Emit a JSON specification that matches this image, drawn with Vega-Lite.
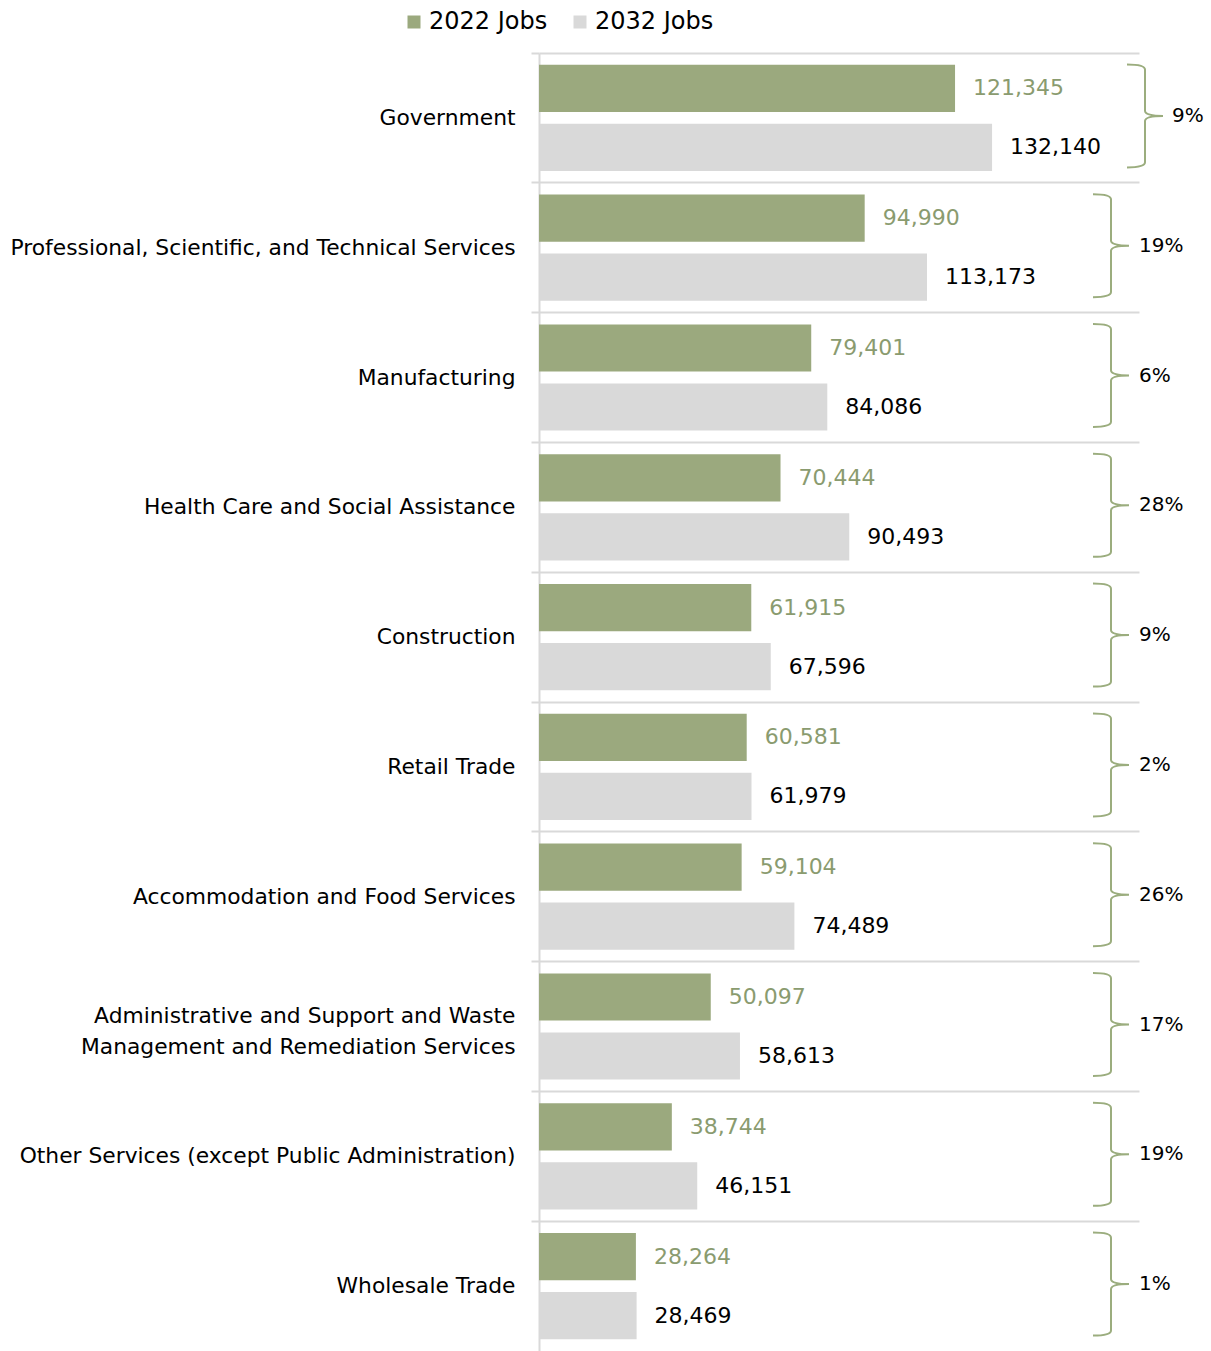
{
  "$schema": "https://vega.github.io/schema/vega-lite/v6.json",
  "width": 600,
  "height": 1298,
  "autosize": {"type": "none"},
  "padding": {"left": 539, "top": 53, "right": 72, "bottom": 0},
  "config": {"font": "DejaVu Sans", "view": {"stroke": null}},
  "datasets": {
    "jobs": [
      {"industry": "Government", "year": "2022 Jobs", "jobs": 121345},
      {"industry": "Government", "year": "2032 Jobs", "jobs": 132140},
      {"industry": "Professional, Scientific, and Technical Services", "year": "2022 Jobs", "jobs": 94990},
      {"industry": "Professional, Scientific, and Technical Services", "year": "2032 Jobs", "jobs": 113173},
      {"industry": "Manufacturing", "year": "2022 Jobs", "jobs": 79401},
      {"industry": "Manufacturing", "year": "2032 Jobs", "jobs": 84086},
      {"industry": "Health Care and Social Assistance", "year": "2022 Jobs", "jobs": 70444},
      {"industry": "Health Care and Social Assistance", "year": "2032 Jobs", "jobs": 90493},
      {"industry": "Construction", "year": "2022 Jobs", "jobs": 61915},
      {"industry": "Construction", "year": "2032 Jobs", "jobs": 67596},
      {"industry": "Retail Trade", "year": "2022 Jobs", "jobs": 60581},
      {"industry": "Retail Trade", "year": "2032 Jobs", "jobs": 61979},
      {"industry": "Accommodation and Food Services", "year": "2022 Jobs", "jobs": 59104},
      {"industry": "Accommodation and Food Services", "year": "2032 Jobs", "jobs": 74489},
      {"industry": "Administrative and Support and Waste Management and Remediation Services", "year": "2022 Jobs", "jobs": 50097},
      {"industry": "Administrative and Support and Waste Management and Remediation Services", "year": "2032 Jobs", "jobs": 58613},
      {"industry": "Other Services (except Public Administration)", "year": "2022 Jobs", "jobs": 38744},
      {"industry": "Other Services (except Public Administration)", "year": "2032 Jobs", "jobs": 46151},
      {"industry": "Wholesale Trade", "year": "2022 Jobs", "jobs": 28264},
      {"industry": "Wholesale Trade", "year": "2032 Jobs", "jobs": 28469}
    ],
    "growth": [
      {"industry": "Government", "growth": 0.09},
      {"industry": "Professional, Scientific, and Technical Services", "growth": 0.19},
      {"industry": "Manufacturing", "growth": 0.06},
      {"industry": "Health Care and Social Assistance", "growth": 0.28},
      {"industry": "Construction", "growth": 0.09},
      {"industry": "Retail Trade", "growth": 0.02},
      {"industry": "Accommodation and Food Services", "growth": 0.26},
      {"industry": "Administrative and Support and Waste Management and Remediation Services", "growth": 0.17},
      {"industry": "Other Services (except Public Administration)", "growth": 0.19},
      {"industry": "Wholesale Trade", "growth": 0.01}
    ]
  },
  "encoding": {
    "y": {
      "field": "industry",
      "type": "nominal",
      "sort": null,
      "scale": {"paddingInner": 0, "paddingOuter": 0},
      "axis": {
        "title": null,
        "domainColor": "#D9D9D9",
        "domainWidth": 2,
        "tickColor": "#D9D9D9",
        "tickWidth": 2,
        "tickSize": 8,
        "bandPosition": 0,
        "grid": true,
        "gridColor": "#D9D9D9",
        "gridWidth": 2,
        "labelFontSize": 21.8,
        "labelColor": "#000000",
        "labelPadding": 16,
        "labelOffset": {"condition": {"test": "datum.value == 'Administrative and Support and Waste Management and Remediation Services'", "value": -11}, "value": 0},
        "labelLimit": 600,
        "labelLineHeight": 31,
        "labelExpr": "datum.value == 'Administrative and Support and Waste Management and Remediation Services' ? ['Administrative and Support and Waste', 'Management and Remediation Services'] : datum.label"
      }
    }
  },
  "layer": [
    {
      "data": {"name": "jobs"},
      "mark": {"type": "bar"},
      "encoding": {
        "yOffset": {"field": "year", "type": "nominal", "sort": ["2022 Jobs", "2032 Jobs"], "scale": {"paddingInner": 0.2, "paddingOuter": 0.2}},
        "x": {"field": "jobs", "type": "quantitative", "scale": {"domain": [0, 175000], "nice": false, "zero": true}, "axis": null},
        "color": {
          "field": "year",
          "type": "nominal",
          "scale": {"domain": ["2022 Jobs", "2032 Jobs"], "range": ["#9BA97E", "#D9D9D9"]},
          "legend": {
            "title": null,
            "orient": "none",
            "legendX": -137,
            "legendY": -43,
            "direction": "horizontal",
            "symbolType": "square",
            "symbolSize": 169,
            "symbolStrokeWidth": 0,
            "labelFontSize": 24,
            "labelColor": "#000000",
            "labelOffset": 3,
            "columnPadding": 20
          }
        }
      }
    },
    {
      "data": {"name": "jobs"},
      "mark": {"type": "text", "align": "left", "baseline": "middle", "dx": 18, "fontSize": 22},
      "encoding": {
        "yOffset": {"field": "year", "type": "nominal", "sort": ["2022 Jobs", "2032 Jobs"], "scale": {"paddingInner": 0.2, "paddingOuter": 0.2}},
        "x": {"field": "jobs", "type": "quantitative"},
        "text": {"field": "jobs", "type": "quantitative", "format": ","},
        "fill": {"condition": {"test": "datum.year === '2022 Jobs'", "value": "#8A9B6F"}, "value": "#000000"}
      }
    },
    {
      "data": {"name": "growth"},
      "transform": [{"filter": "datum.industry !== 'Government'"}],
      "mark": {
        "type": "point",
        "shape": "M -0.35 -1 Q 0 -1 0 -0.9 L 0 -0.1 Q 0 0 0.35 0 Q 0 0 0 0.1 L 0 0.9 Q 0 1 -0.35 1",
        "filled": false,
        "stroke": "#9BAD7E",
        "strokeWidth": 2,
        "opacity": 1,
        "size": 10609,
        "yOffset": -2
      },
      "encoding": {
        "x": {"datum": 166833, "type": "quantitative"}
      }
    },
    {
      "data": {"name": "growth"},
      "transform": [{"filter": "datum.industry === 'Government'"}],
      "mark": {
        "type": "point",
        "shape": "M -0.35 -1 Q 0 -1 0 -0.9 L 0 -0.1 Q 0 0 0.35 0 Q 0 0 0 0.1 L 0 0.9 Q 0 1 -0.35 1",
        "filled": false,
        "stroke": "#9BAD7E",
        "strokeWidth": 2,
        "opacity": 1,
        "size": 10609,
        "yOffset": -2
      },
      "encoding": {
        "x": {"datum": 176750, "type": "quantitative"}
      }
    },
    {
      "data": {"name": "growth"},
      "transform": [{"filter": "datum.industry !== 'Government'"}],
      "mark": {"type": "text", "align": "left", "baseline": "middle", "fontSize": 20, "fill": "#000000", "yOffset": -2, "dx": 28},
      "encoding": {
        "x": {"datum": 166833, "type": "quantitative"},
        "text": {"field": "growth", "type": "quantitative", "format": ".0%"}
      }
    },
    {
      "data": {"name": "growth"},
      "transform": [{"filter": "datum.industry === 'Government'"}],
      "mark": {"type": "text", "align": "left", "baseline": "middle", "fontSize": 20, "fill": "#000000", "yOffset": -2, "dx": 27},
      "encoding": {
        "x": {"datum": 176750, "type": "quantitative"},
        "text": {"field": "growth", "type": "quantitative", "format": ".0%"}
      }
    }
  ]
}
